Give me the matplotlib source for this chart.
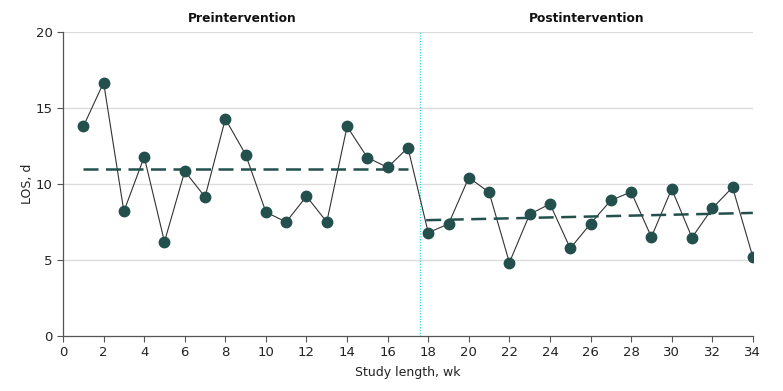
import matplotlib
matplotlib.use("Agg")
import matplotlib.pyplot as plt
import numpy as np

weeks = np.arange(1, 35)
los = [13.8, 16.7, 8.2, 11.8, 6.2, 10.85, 9.15, 14.3, 11.95, 8.15, 7.5, 9.2, 7.5,
       13.8, 11.75, 11.1, 12.4,
       6.8, 7.37, 10.43, 9.46, 4.82, 8.01, 8.69, 5.76, 7.39, 8.93, 9.48, 6.51,
       9.68, 6.47, 8.4, 9.79, 5.19]
pre_trend_x = [1, 17]
pre_trend_y = [11.0, 11.0]
post_trend_x = [17.9, 34]
post_trend_y = [7.62, 8.1]
split_x = 17.57
phases = ["Preintervention", "Postintervention"]
phase_x = [8.85, 25.8]

teal = "#23504d"
plt.rcParams['font.family'] = ['DejaVu Sans']

fig = plt.figure(figsize=(7.83, 3.91), dpi=100)
ax = fig.add_axes([0.0805, 0.1414, 0.881, 0.7755])

for y in [5, 10, 15, 20]:
    ax.axhline(y, color="#dcdcdc", lw=1, zorder=0)
ax.axvline(split_x, color="#33e0e0", lw=0.9, ls=(0, (1, 1.2)), zorder=1)

ax.plot(weeks, los, color="#333333", lw=0.8, zorder=2)
ax.plot(weeks, los, "o", color=teal, ms=7.5, zorder=3)
ax.plot(pre_trend_x, pre_trend_y, color=teal, lw=1.8, dashes=(6, 3), zorder=2)
ax.plot(post_trend_x, post_trend_y, color=teal, lw=1.8, dashes=(6, 3), zorder=2)

ax.set_xlim(0, 34)
ax.set_ylim(0, 20)
ax.set_xticks(np.arange(0, 35, 2))
ax.set_yticks([0, 5, 10, 15, 20])
ax.spines["top"].set_visible(False)
ax.spines["right"].set_visible(False)
for s in ["left", "bottom"]:
    ax.spines[s].set_color("#555555")
    ax.spines[s].set_linewidth(0.9)
ax.tick_params(colors="#555555", labelcolor="#222222", labelsize=9.5, length=4)
ax.set_xlabel("Study length, wk", fontsize=9, color="#222222", labelpad=5)
ax.set_ylabel("LOS, d", fontsize=9, color="#222222", labelpad=1)

for name, x in zip(phases, phase_x):
    ax.text(x, 20.5, name, ha="center", va="bottom", fontsize=8.8,
            fontweight="semibold", color="#111111")

fig.savefig("out.png", dpi=100)
